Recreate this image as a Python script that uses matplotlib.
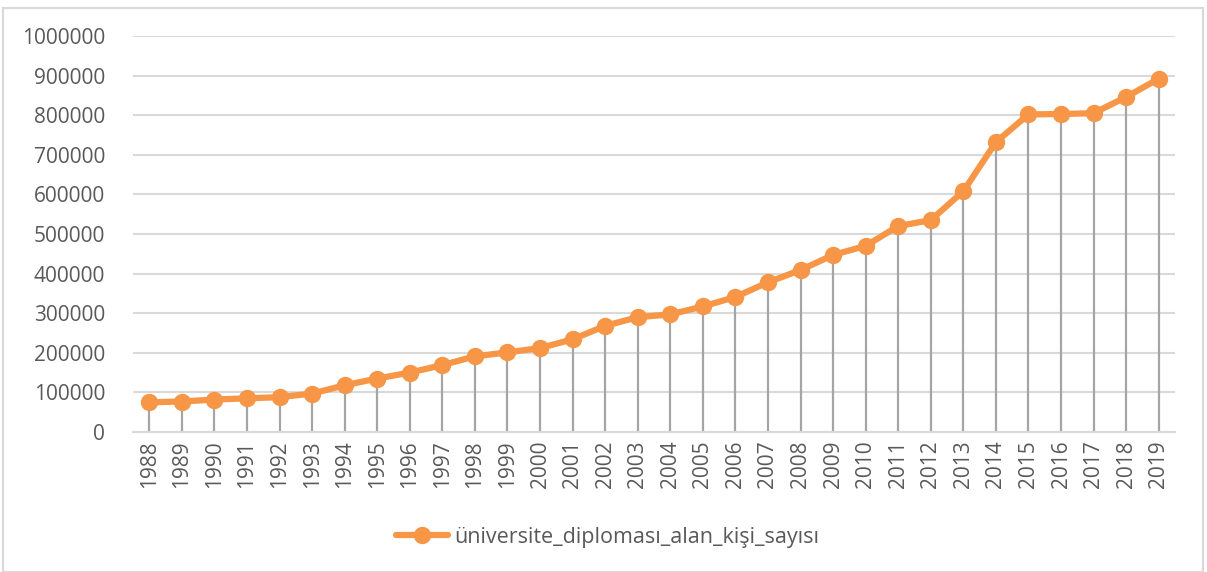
import matplotlib.pyplot as plt
import matplotlib.patches as patches
import numpy as np

years = [str(y) for y in range(1988, 2020)]
values = [75000, 77000, 82000, 85000, 88000, 97000, 118000, 135000, 150000, 169000,
          191000, 201000, 212000, 234000, 268000, 290000, 297000, 317000, 341000, 378000,
          409000, 447000, 470000, 520000, 535000, 608000, 732000, 802000, 803000, 805000,
          846000, 892000]
yticks = list(range(0, 1000001, 100000))
series_name = 'üniversite_diploması_alan_kişi_sayısı'

plt.rcParams['font.family'] = ['Open Sans', 'DejaVu Sans']
text_color = '#595959'
orange = '#F79646'

fig = plt.figure(figsize=(12.07, 5.72), dpi=100)
ax = fig.add_axes([133/1207, 1 - 432/572, (1175-133)/1207, (432-36)/572])

x = np.arange(len(years))
# drop lines
ax.vlines(x, 0, values, color='#A5A5A5', linewidth=1.6, zorder=2)
ax.plot(x, values, color=orange, linewidth=4.5, marker='o', markersize=11.5,
        solid_capstyle='round', label=series_name, zorder=3)

ax.set_xlim(-0.5, len(years) - 0.5)
ax.set_ylim(0, 1000000)
ax.set_yticks(yticks)
ax.set_yticklabels([str(v) for v in yticks])
ax.set_xticks(x)
ax.set_xticklabels(years, rotation=90)
ax.tick_params(axis='both', length=0, labelsize=15, colors=text_color)
ax.tick_params(axis='y', pad=20)
ax.tick_params(axis='x', pad=6)
ax.grid(axis='y', color='#D9D9D9', linewidth=1.5)
ax.set_axisbelow(True)
for s in ['top', 'right', 'left']:
    ax.spines[s].set_visible(False)
ax.spines['bottom'].set_color('#D9D9D9')
ax.spines['bottom'].set_linewidth(1.5)

leg = fig.legend(loc='center', bbox_to_anchor=(608/1207, 1 - 537/572), frameon=False,
                 fontsize=15.5, handlelength=2.4, handletextpad=0.3)
for t in leg.get_texts():
    t.set_color(text_color)

# chart frame
fig.patches.append(patches.Rectangle((3/1207, 0), 1200/1207, 1 - 8/572,
                                     transform=fig.transFigure, fill=False,
                                     edgecolor='#D9D9D9', linewidth=1.5))

fig.savefig('out.png', dpi=100)
